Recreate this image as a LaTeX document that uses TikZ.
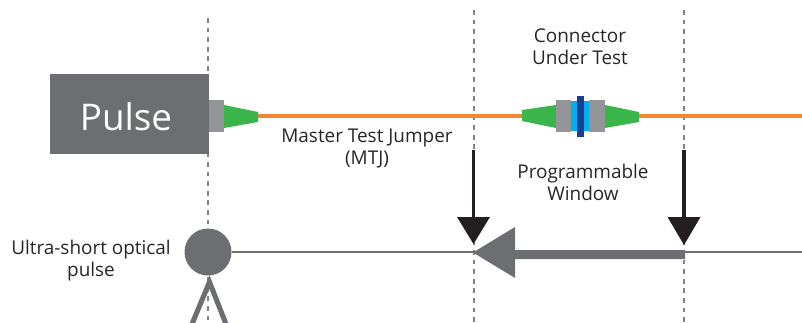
\documentclass[tikz,border=0pt]{standalone}
\usepackage{fontspec}
\setmainfont{Open Sans}
\usetikzlibrary{calc}
\definecolor{boxgray}{HTML}{6D6E71}
\definecolor{conngray}{HTML}{939598}
\definecolor{fibre}{HTML}{F58634}
\definecolor{green}{HTML}{39B54A}
\definecolor{cyanb}{HTML}{00AEEF}
\definecolor{navy}{HTML}{1C3F94}
\definecolor{blk}{HTML}{231F20}
\definecolor{dashgray}{HTML}{808285}
\tikzset{
  x=0.75pt,y=-0.75pt,
  lbl/.style={font=\fontsize{14.2}{16.5}\selectfont,text=black!85,align=center,inner sep=0pt},
  guide/.style={draw=dashgray,line width=1.6pt,dash pattern=on 3.6pt off 3.6pt},
  fibreline/.style={draw=fibre,line width=2.4pt},
  baseline/.style={draw=boxgray,line width=1.9pt},
  marker/.style={draw=blk,line width=2.6pt},
  markhead/.style={fill=blk,draw=none},
  leg/.style={draw=boxgray,line width=3.8pt},
}
\begin{document}
\begin{tikzpicture}
\useasboundingbox (0,0) rectangle (802,322);
% guides
\coordinate (g1t) at (208,18); \coordinate (g1b) at (208,322);
\coordinate (g2t) at (474,10); \coordinate (g2b) at (474,322);
\coordinate (g3t) at (684,10); \coordinate (g3b) at (684,322);
\draw[guide] (g1t) -- (g1b);
\draw[guide] (g2t) -- (g2b);
\draw[guide] (g3t) -- (g3b);
% fibre
\coordinate (fibEnd) at (802,116);
\coordinate (f1) at (258,116); \coordinate (f2) at (522,116); \coordinate (f3) at (639,116);
\draw[fibreline] (f1) -- (f2);
\draw[fibreline] (f3) -- (fibEnd);
% pulse box
\node[fill=boxgray,minimum width=119.25pt,minimum height=60pt,inner sep=0pt,anchor=north west] (pulsebox) at (50,74) {};
\node[text=white,inner sep=0pt,font=\fontsize{27.6}{30}\selectfont] (pulsetxt) at (126,117) {Pulse};
\fill[conngray] (209,100) rectangle (224,132);
\fill[green] (224,105) -- (258,112) -- (258,122) -- (224,128) -- cycle;
% connector under test
\fill[green] (522,110) -- (556,105) -- (556,128) -- (522,121) -- cycle;
\fill[green] (605,105) -- (639,112) -- (639,122) -- (605,128) -- cycle;
\fill[cyanb] (571,101) rectangle (589,131);
\fill[conngray] (556,100) rectangle (571,132);
\fill[conngray] (589,100) rectangle (605,132);
\fill[navy] (577,96) rectangle (584,137);
% baseline and pulse
\node[circle,fill=boxgray,minimum size=35.25pt,inner sep=0pt] (dot) at (208,252) {};
\coordinate (baseEnd) at (802,252);
\draw[baseline] (dot) -- (baseEnd);
\coordinate (apex) at (209.5,282);
\coordinate (legL) at (192,324); \coordinate (legR) at (226,324);
\draw[leg,line join=miter] (legL) -- (apex) -- (legR);
% window markers
\coordinate (m1t) at (473.5,150); \coordinate (m1h) at (473.5,218);
\coordinate (m2t) at (684,150); \coordinate (m2h) at (684,218);
\draw[marker] (m1t) -- (m1h);
\draw[marker] (m2t) -- (m2h);
\fill[markhead] (457,217) -- (490,217) -- (473.5,244) -- cycle;
\fill[markhead] (667.5,217) -- (700.5,217) -- (684,245) -- cycle;
% window arrow
\fill[boxgray] (685,250) -- (515,250) -- (515,227) -- (473,252.5) -- (515,278) -- (515,259) -- (685,259) -- cycle;
% labels
\node[lbl] (cut) at (580,46.5) {Connector\\Under Test};
\node[lbl] (mtj) at (367,148.5) {Master Test Jumper\\(MTJ)};
\node[lbl] (win) at (583,182) {Programmable\\Window};
\node[lbl] (usp) at (91,260.5) {Ultra-short optical\\pulse};
\end{tikzpicture}
\end{document}
